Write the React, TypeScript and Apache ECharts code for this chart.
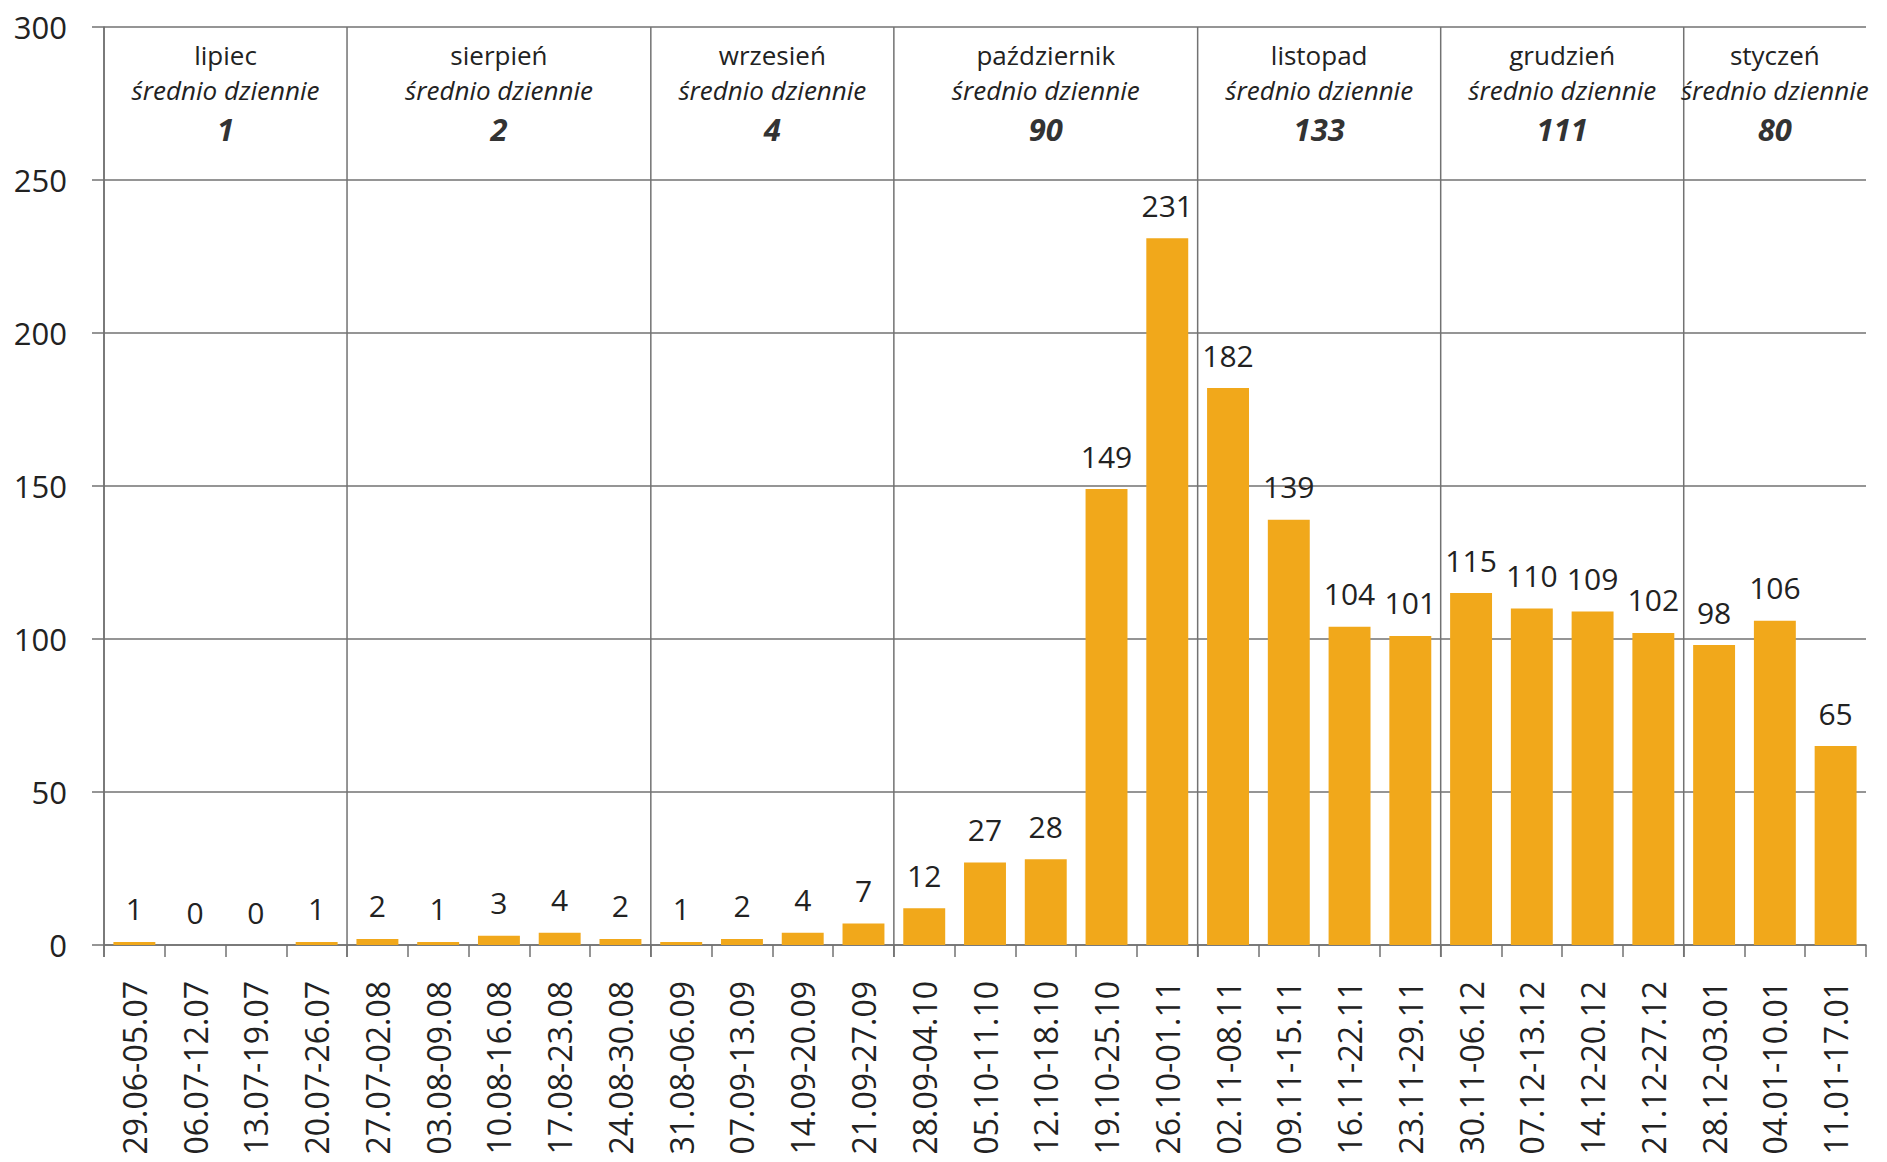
import React, { useEffect, useRef } from "react";
import * as echarts from "echarts";

const categories = [
  "29.06-05.07", "06.07-12.07", "13.07-19.07", "20.07-26.07",
  "27.07-02.08", "03.08-09.08", "10.08-16.08", "17.08-23.08", "24.08-30.08",
  "31.08-06.09", "07.09-13.09", "14.09-20.09", "21.09-27.09",
  "28.09-04.10", "05.10-11.10", "12.10-18.10", "19.10-25.10", "26.10-01.11",
  "02.11-08.11", "09.11-15.11", "16.11-22.11", "23.11-29.11",
  "30.11-06.12", "07.12-13.12", "14.12-20.12", "21.12-27.12",
  "28.12-03.01", "04.01-10.01", "11.01-17.01",
];
const values = [
  1, 0, 0, 1,
  2, 1, 3, 4, 2,
  1, 2, 4, 7,
  12, 27, 28, 149, 231,
  182, 139, 104, 101,
  115, 110, 109, 102,
  98, 106, 65,
];
const monthNames = ["lipiec", "sierpień", "wrzesień", "październik", "listopad", "grudzień", "styczeń"];
const monthStart = [0, 4, 9, 13, 18, 22, 26];
const monthEnd = [4, 9, 13, 18, 22, 26, 29];
const monthAvg = ["1", "2", "4", "90", "133", "111", "80"];
const avgCaption = "średnio dziennie";
const yTicks = { min: 0, max: 300, interval: 50 };

const FONT = "'Open Sans', 'Liberation Sans', sans-serif";
const TEXT = "#222222";
const LINE = "#727272";

export default function App() {
  const ref = useRef<HTMLDivElement>(null);
  useEffect(() => {
    if (!ref.current) return;
    const chart = echarts.init(ref.current, null, { renderer: "svg" });
    chart.setOption({
      animation: false,
      backgroundColor: "#ffffff",
      grid: { left: 104, right: 21, top: 27, bottom: 217, containLabel: false },
      xAxis: {
        type: "category",
        data: categories,
        boundaryGap: true,
        axisLine: { show: true, lineStyle: { color: LINE, width: 1.5 } },
        axisTick: { show: true, length: 12, lineStyle: { color: LINE, width: 1.5 } },
        axisLabel: {
          rotate: 90,
          interval: 0,
          margin: 36,
          fontSize: 32,
          fontFamily: FONT,
          color: TEXT,
        },
        splitLine: { show: false },
      },
      yAxis: {
        type: "value",
        min: yTicks.min,
        max: yTicks.max,
        interval: yTicks.interval,
        axisLine: { show: true, lineStyle: { color: LINE, width: 1.5 } },
        axisTick: { show: true, length: 12, lineStyle: { color: LINE, width: 1.5 } },
        axisLabel: { margin: 37, fontSize: 31, fontFamily: FONT, color: TEXT },
        splitLine: { show: true, lineStyle: { color: LINE, width: 1.5 } },
      },
      series: [
        {
          type: "bar",
          data: values,
          barCategoryGap: "31%",
          itemStyle: { color: "#F1A81B" },
          label: {
            show: true,
            position: "top",
            distance: 18,
            fontSize: 30,
            fontFamily: FONT,
            color: TEXT,
          },
          z: 2,
        },
        {
          type: "custom",
          clip: false,
          silent: true,
          z: 3,
          data: monthNames.map((_, i) => [monthStart[i], 0]),
          renderItem: (params: any, api: any) => {
            const i = params.dataIndex;
            const s = monthStart[i];
            const e = monthEnd[i];
            const p0 = api.coord([s, 0]);
            const bw = api.size([1, 0])[0];
            const xL = p0[0] - bw / 2;
            const xR = api.coord([e - 1, 0])[0] + bw / 2;
            const top = api.coord([s, yTicks.max])[1];
            const bottom = p0[1];
            const cx = (xL + xR) / 2;
            return {
              type: "group",
              children: [
                {
                  type: "line",
                  shape: { x1: xL, y1: top, x2: xL, y2: bottom + 12 },
                  style: { stroke: LINE, lineWidth: 1.5 },
                },
                {
                  type: "text",
                  x: cx,
                  y: top + 28,
                  style: {
                    text: monthNames[i],
                    fontSize: 26,
                    fontFamily: FONT,
                    fill: TEXT,
                    align: "center",
                    verticalAlign: "middle",
                  },
                },
                {
                  type: "text",
                  x: cx,
                  y: top + 63,
                  style: {
                    text: avgCaption,
                    fontSize: 26,
                    fontStyle: "italic",
                    fontFamily: FONT,
                    fill: TEXT,
                    align: "center",
                    verticalAlign: "middle",
                  },
                },
                {
                  type: "text",
                  x: cx,
                  y: top + 102,
                  style: {
                    text: monthAvg[i],
                    fontSize: 31,
                    fontStyle: "italic",
                    fontWeight: "bold",
                    fontFamily: FONT,
                    fill: "#333333",
                    align: "center",
                    verticalAlign: "middle",
                  },
                },
              ],
            };
          },
        },
      ],
    });
    return () => chart.dispose();
  }, []);
  return (
    <div
      ref={ref}
      style={{ position: "absolute", left: 0, top: 0, width: 1887, height: 1162 }}
    />
  );
}
